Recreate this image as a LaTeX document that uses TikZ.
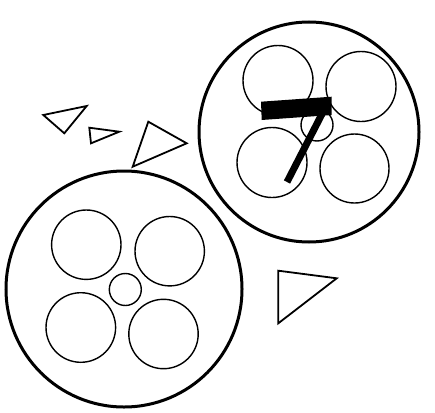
\documentclass[tikz,border=0pt]{standalone}
\begin{document}
\begin{tikzpicture}[x=1pt,y=-1pt,
  rim/.style={line width=3pt},
  hole/.style={line width=1.4pt},
  tri/.style={line width=1.8pt,line join=miter}]
\useasboundingbox (0,0) rectangle (435,412);
% top-right reel
\draw[rim] (309,132) circle[radius=110];
\draw[hole] (278,80.5) circle[radius=35];
\draw[hole] (361,86.5) circle[radius=35];
\draw[hole] (272,162.5) circle[radius=35];
\draw[hole] (354.5,168.5) circle[radius=34.5];
\draw[hole] (317,125) circle[radius=16];
\fill (261,101.7) -- (331.7,96.7) -- (331.7,115) -- (261.7,120) -- cycle;
\draw[line width=7pt] (323,112) -- (287,182);
% bottom-left reel
\draw[rim] (124,289) circle[radius=118];
\draw[hole] (86.3,244.7) circle[radius=34.7];
\draw[hole] (169.7,251.2) circle[radius=34.7];
\draw[hole] (80.8,327.5) circle[radius=34.8];
\draw[hole] (163.5,334) circle[radius=34.7];
\draw[hole] (125.3,289.5) circle[radius=16];
% triangles
\draw[tri] (43.3,115) -- (86.7,106) -- (64.3,133.3) -- cycle;
\draw[tri] (89.3,127.7) -- (119.3,131.7) -- (91,143.3) -- cycle;
\draw[tri] (148.3,121.7) -- (186.7,143.3) -- (132.7,166.7) -- cycle;
\draw[tri] (278.3,270.7) -- (336.7,278.3) -- (278.3,323.3) -- cycle;
\end{tikzpicture}
\end{document}
